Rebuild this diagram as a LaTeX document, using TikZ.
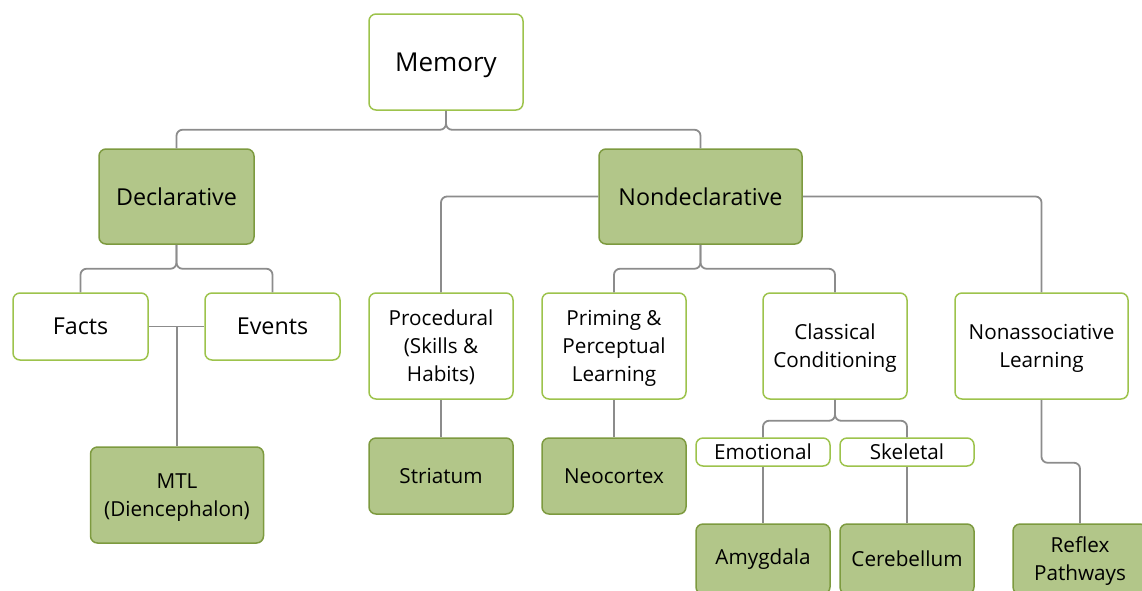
\documentclass[tikz,border=0pt]{standalone}
\usepackage{fontspec}
\setmainfont{Open Sans}
\usepackage{xcolor}
\definecolor{boxline}{HTML}{9DC34C}
\definecolor{boxfill}{HTML}{B2C689}
\definecolor{fillline}{HTML}{7D9A3F}
\definecolor{linkgray}{HTML}{8C8C8C}

\begin{document}
\begin{tikzpicture}[x=1pt, y=-1pt,
    plain/.style={draw=boxline, fill=white, line width=1.5pt, rounded corners=7pt,
      inner sep=0pt, align=center, font=\fontsize{23.3}{28}\selectfont},
    solid/.style={plain, draw=fillline, fill=boxfill},
    small/.style={font=\fontsize{20.7}{28}\selectfont},
    lower/.style={text depth=0pt},
    link/.style={draw=linkgray, line width=1.8pt, rounded corners=6pt}]
  \useasboundingbox (0,0) rectangle (1142,590);

  \node[plain, lower, minimum width=154pt, minimum height=96pt, font=\fontsize{26}{30}\selectfont] (mem) at (446,62) {Memory};
  \node[solid, minimum width=155pt, minimum height=95pt] (decl) at (176.5,196.5) {Declarative};
  \node[solid, minimum width=203pt, minimum height=95pt] (nondecl) at (700.5,196.5) {Nondeclarative};

  \node[plain, minimum width=135pt, minimum height=67pt] (facts) at (80.5,326.5) {Facts};
  \node[plain, minimum width=135pt, minimum height=67pt] (events) at (272.5,326.5) {Events};
  \node[solid, small, lower, minimum width=173pt, minimum height=96pt] (mtl) at (177,495) {MTL\\(Diencephalon)};

  \node[plain, small, lower, minimum width=144pt, minimum height=106pt] (proc) at (441,346) {Procedural\\(Skills \&\\Habits)};
  \node[plain, small, lower, minimum width=144pt, minimum height=106pt] (priming) at (614,346) {Priming \&\\Perceptual\\Learning};
  \node[plain, small, lower, minimum width=144pt, minimum height=106pt] (classical) at (835,346) {Classical\\Conditioning};
  \node[plain, small, lower, minimum width=173pt, minimum height=106pt] (nonassoc) at (1041.5,346) {Nonassociative\\Learning};

  \node[solid, small, minimum width=144pt, minimum height=76pt] (striatum) at (441,476) {Striatum};
  \node[solid, small, minimum width=144pt, minimum height=76pt] (neocortex) at (614,476) {Neocortex};
  \node[plain, small, minimum width=134pt, minimum height=28pt] (emot) at (763,452) {Emotional};
  \node[plain, small, minimum width=134pt, minimum height=28pt] (skel) at (907,452) {Skeletal};
  \node[solid, small, minimum width=134pt, minimum height=70pt] (amyg) at (763,559) {Amygdala};
  \node[solid, small, minimum width=134pt, minimum height=70pt] (cereb) at (907,559) {Cerebellum};
  \node[solid, small, lower, minimum width=134pt, minimum height=70pt] (reflex) at (1080,559) {Reflex\\Pathways};

  \draw[link] (mem.south) -- ++(0,19) -| (decl.north);
  \draw[link] (mem.south) -- ++(0,19) -| (nondecl.north);
  \draw[link] (decl.south) -- ++(0,24) -| (facts.north);
  \draw[link] (decl.south) -- ++(0,24) -| (events.north);
  \draw[link] (facts.east) -- (events.west);
  \draw[link] (mtl.north) -- (mtl.north |- facts.east);
  \draw[link] (nondecl.west) -| (proc.north);
  \draw[link] (nondecl.east) -| (nonassoc.north);
  \draw[link] (nondecl.south) -- ++(0,24) -| (priming.north);
  \draw[link] (nondecl.south) -- ++(0,24) -| (classical.north);
  \draw[link] (proc.south) -- (striatum.north);
  \draw[link] (priming.south) -- (neocortex.north);
  \draw[link] (classical.south) -- ++(0,21) -| (emot.north);
  \draw[link] (classical.south) -- ++(0,21) -| (skel.north);
  \draw[link] (emot.south) -- (amyg.north);
  \draw[link] (skel.south) -- (cereb.north);
  \draw[link] (nonassoc.south) -- ++(0,63) -| (reflex.north);
\end{tikzpicture}
\end{document}
